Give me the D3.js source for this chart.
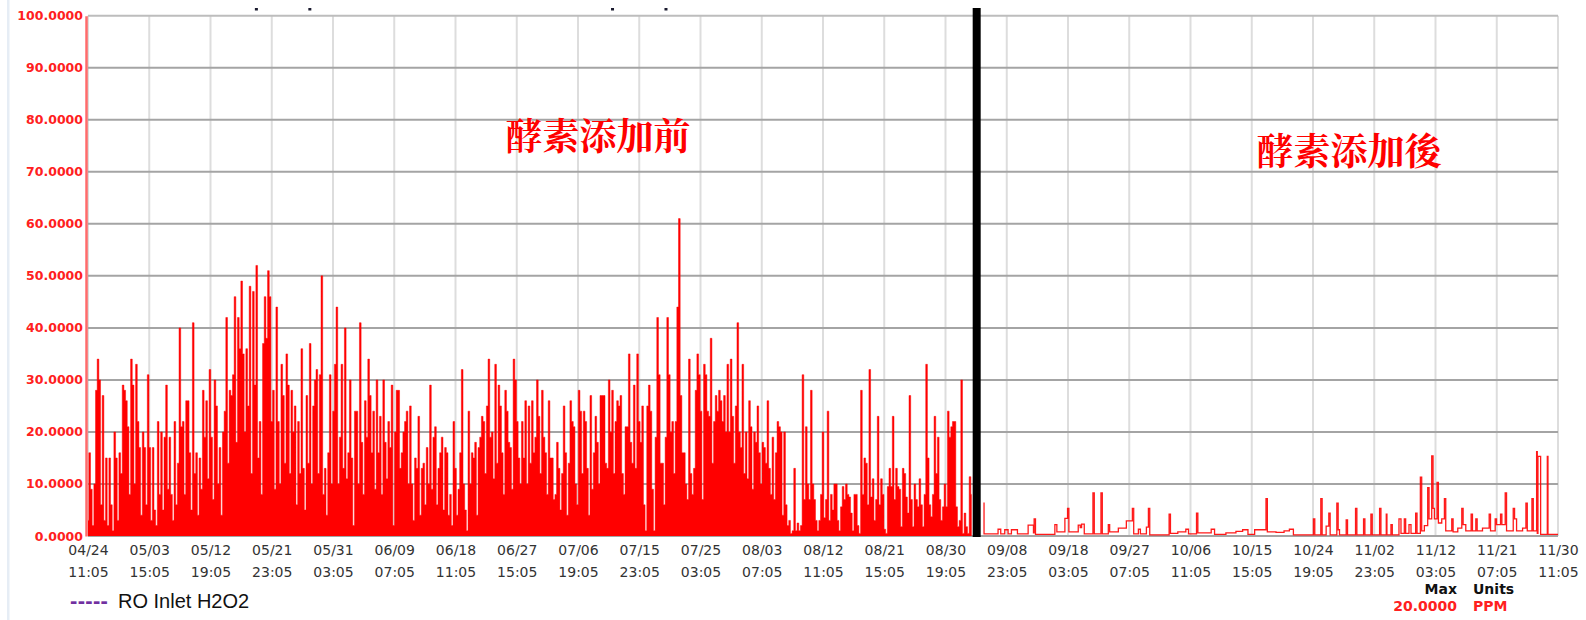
<!DOCTYPE html>
<html>
<head>
<meta charset="utf-8">
<script src="https://cdn.jsdelivr.net/npm/d3@7"></script>
<style>
  body { margin: 0; background: #fff; }
  svg { display: block; }
</style>
</head>
<body>
<div id="chart"></div>
<script>
/*********************************
   DATA
 *********************************/

// Time Axis Tick Labels (Every 220 Hours)
const tickLabels = ["04/24 11:05", "05/03 15:05", "05/12 19:05", "05/21 23:05", "05/31 03:05",
  "06/09 07:05", "06/18 11:05", "06/27 15:05", "07/06 19:05", "07/15 23:05", "07/25 03:05",
  "08/03 07:05", "08/12 11:05", "08/21 15:05", "08/30 19:05", "09/08 23:05", "09/18 03:05",
  "09/27 07:05", "10/06 11:05", "10/15 15:05", "10/24 19:05", "11/02 23:05", "11/12 03:05",
  "11/21 07:05", "11/30 11:05"];
const yTicks = [0, 10, 20, 30, 40, 50, 60, 70, 80, 90, 100];

// Before Enzyme Dosing: One Reading Every 6 Hours From 04/24 11:05 (PPM)
const stepHours = 6;
const beforeVals = [
  3,16,9,2,10,28,34,30,6,27, 3,15,2,15,6,1,20,15,3,16, 12,29,28,26,21,8,34,29,10,33,
  22,17,4,20,17,6,31,17,3,17, 5,2,22,8,20,5,19,29,9,19, 8,3,22,6,14,40,21,22,8,26,
  26,16,5,41,12,16,4,15,9,28, 19,26,11,32,19,7,30,25,10,17, 4,20,24,42,14,28,27,31,46,18,
  42,36,49,35,20,36,25,48,12,47, 29,52,15,22,8,37,46,38,51,46, 22,28,9,44,22,10,33,27,14,35,
  29,12,28,20,25,6,22,12,36,13, 5,27,14,37,10,25,30,32,12,31, 50,8,13,4,16,31,10,24,33,
  44,10,19,33,13,40,11,16,30,15, 2,24,24,10,41,18,8,26,19,34, 27,16,24,9,30,16,23,8,30,18,
  11,22,17,29,2,20,28,28,13,16, 20,22,24,10,25,10,3,15,13,23, 4,13,14,6,17,10,29,9,19,21,
  6,13,16,19,5,17,16,4,8,2, 22,13,4,9,16,32,10,5,1,24, 10,16,15,18,4,17,19,23,22,12,
  25,34,19,20,11,33,14,29,25,16, 8,28,24,18,17,9,34,30,22,15, 10,22,15,26,10,25,14,26,16,19,
  30,23,12,28,19,16,8,26,15,15, 7,8,18,13,5,12,25,16,4,14, 26,22,21,10,6,28,24,12,24,22,
  13,4,27,9,16,23,18,10,27,27, 27,14,13,30,20,28,12,22,26,25, 27,12,8,21,21,35,18,14,29,13,
  35,22,18,25,6,1,25,29,24,9, 1,19,42,31,14,14,6,19,42,31, 20,22,12,22,44,61,27,16,16,10,
  7,34,12,8,13,28,35,31,24,7, 33,31,24,23,38,14,22,27,24,28, 26,22,27,20,33,20,34,23,14,25,
  41,20,17,33,12,20,11,26,21,9, 20,18,25,16,10,18,17,14,26,13, 8,19,7,16,22,21,20,4,20,6,
  2,3,0.5,1,13,1,2.5,1,2,31, 7,21,10,7,28,10,7,3,1,3, 8,20,3.5,7,24,3,8,5,10,10,
  3,1,5.6,9.5,7,10,8,7.5,4.4,1, 8,8,2,0.5,28,8,15,14,6,32, 7.5,11,3,7,23,6,11,8,1.3,0.5,
  9.5,13,9.5,23,7,13,9.5,9,1.8,13, 12,7.5,4.4,27,7,1.8,10,7,5.6,11, 6,1.8,8,33,15,6,3.7,8,23,12,
  19,7,3,5.6,10,5.6,24,19,21,22, 22,5.6,1.8,3,30,0.5,4.4,1.8,0.5,11.4, 8
];

// After Enzyme Dosing: Step Changes (Days Since 04/24 11:05, PPM)
const afterDays = [134.0,134.1,136.2,136.6,137.2,137.7,138.2,139.1,140.7,141.5,141.6,141.8,
  144.7,145.0,146.2,146.6,146.8,148.2,148.5,148.7,149.1,150.4,150.6,151.6,151.8,152.7,152.9,
  154.2,155.4,156.3,156.5,157.2,157.5,158.4,158.7,158.9,161.8,162.0,163.1,164.3,164.7,165.9,
  166.1,168.1,168.6,170.3,171.8,172.8,173.6,174.6,176.3,176.5,177.8,179.0,179.8,180.4,183.4,
  183.6,184.5,184.7,185.3,185.7,185.9,186.9,187.1,187.3,188.3,188.5,189.7,189.9,190.9,191.1,
  192.0,192.2,193.3,193.5,194.3,194.4,195.0,195.2,196.2,196.5,197.0,197.2,197.7,198.0,198.7,
  198.9,199.4,199.6,200.0,200.5,200.7,201.1,201.3,201.5,201.9,202.1,202.6,203.0,203.2,204.1,
  204.3,205.0,205.6,205.8,206.2,207.0,207.2,207.7,207.9,208.7,209.7,209.9,210.6,210.8,211.4,
  211.6,212.1,212.3,213.3,213.5,213.8,214.7,215.2,215.4,216.1,216.3,216.8,216.9,217.0,217.4,
  218.4,218.5,220.0];
const afterVals = [6.3,0.4,1.3,0.4,1.2,0.4,1.2,0.4,2.1,0.6,3.3,0.3,
  2.2,0.8,3.4,5.3,0.8,2.1,1.6,2.3,0.4,8.3,0.4,8.3,0.4,2.2,0.8,
  1.5,2.9,5.3,0.4,1.3,0.4,1.7,5.3,0.2,4.2,0.5,0.8,1.3,0.4,4.4,
  0.6,1.3,0.3,0.6,0.9,1.2,0.3,1.2,7.2,0.8,0.7,1.0,1.3,0.2,3.3,
  0.2,7.2,0.2,1.9,4.4,0.2,6.3,1.2,0.2,3.1,0.2,5.3,0.2,3.3,0.2,
  4.2,0.2,5.3,0.2,4.2,0.2,2.2,0.2,3.3,0.5,3.3,0.5,2.2,0.5,4.4,
  0.5,11.3,1.0,2.0,9.3,3.3,15.4,5.3,3.3,10.3,2.5,3.3,7.2,1.0,3.3,
  0.8,1.5,5.3,2.2,1.0,4.2,1.0,3.3,1.0,1.5,4.2,1.0,3.3,2.2,4.2,
  2.2,8.3,1.0,5.3,3.3,1.0,1.5,6.3,1.0,7.2,1.0,16.2,0.5,15.3,0.3,
  15.3,0.3,0.3];

// Enzyme Dosing Start (Days Since 04/24 11:05)
const dividerDay = 133;
// Stray Marks Above The Plot (Days Since 04/24 11:05)
const topMarkDays = [25.2, 33.2, 78.5, 86.5];

/*********************************
   DRAW CHART
 *********************************/

let w = 1586, h = 620;
let plotLeft = 88, plotRight = 1558, plotTop = 15.7, plotBottom = 536;

let svg = d3.select("#chart").append("svg").attr("width", w).attr("height", h);

// Parse Dates
let parseTime = d3.utcParse("%Y/%m/%d %H:%M");
let tickDates = tickLabels.map((d) => parseTime("2019/" + d));
let t0 = tickDates[0];

// Scales
let xScale = d3.scaleUtc().domain([tickDates[0], tickDates[tickDates.length - 1]]).range([plotLeft, plotRight]);
let yScale = d3.scaleLinear().domain([0, 100]).range([plotBottom, plotTop]);

// Faint Page Edge
svg.append("rect").attr("x", 7).attr("y", 0).attr("width", 2.5).attr("height", h).attr("fill", "#e6edf5");

// Vertical Grid Lines
svg.append("g").selectAll("line").data(tickDates).enter().append("line")
  .attr("x1", (d) => xScale(d)).attr("x2", (d) => xScale(d))
  .attr("y1", plotTop).attr("y2", plotBottom)
  .attr("stroke", "#dddddd").attr("stroke-width", 2);

// Horizontal Grid Lines
svg.append("g").selectAll("line").data(yTicks).enter().append("line")
  .attr("x1", plotLeft).attr("x2", plotRight)
  .attr("y1", (d) => yScale(d)).attr("y2", (d) => yScale(d))
  .attr("stroke", (d) => d == 100 ? "#bdbdbd" : "#a4a4a4").attr("stroke-width", 2);

// Before Series: Dense Readings Drawn As Filled Steps From Zero
let beforeX = (d, i) => xScale(d3.utcHour.offset(t0, i * stepHours));
let beforeArea = d3.area().curve(d3.curveStep)
  .x(beforeX).y0(yScale(0)).y1((d) => yScale(d));
svg.append("path").datum(beforeVals).attr("d", beforeArea)
  .attr("fill", "#ff0000").attr("stroke", "none");
let beforeEdge = d3.line().curve(d3.curveStep).x(beforeX).y((d) => yScale(d));
svg.append("path").datum(beforeVals).attr("d", beforeEdge)
  .attr("fill", "none").attr("stroke", "#ff0000").attr("stroke-width", 0.8).attr("stroke-opacity", 0.6);

// After Series (Stepped)
let afterData = afterDays.map((d, i) => ({ t: d3.utcMinute.offset(t0, Math.round(d * 1440)), v: afterVals[i] }));
let afterLine = d3.line().curve(d3.curveStepAfter)
  .x((d) => xScale(d.t)).y((d) => yScale(d.v));
svg.append("path").datum(afterData).attr("d", afterLine)
  .attr("fill", "none").attr("stroke", "#ff0000").attr("stroke-width", 1.3).attr("stroke-opacity", 0.9);

// Y Axis
let yAxis = d3.axisLeft(yScale).tickValues(yTicks).tickFormat(d3.format(".4f")).tickSize(0).tickPadding(3);
let yG = svg.append("g").attr("transform", "translate(" + (plotLeft - 2) + ",0)").call(yAxis);
yG.select(".domain").attr("stroke", "#ff6b6b").attr("stroke-width", 2.5);
yG.selectAll("text").attr("fill", "#ff2020").style("font", "bold 12.5px 'DejaVu Sans', Verdana, sans-serif");

// X Axis (Two-Line Labels)
let xAxis = d3.axisBottom(xScale).tickValues(tickDates).tickSize(0).tickFormat("");
let xG = svg.append("g").attr("transform", "translate(0," + plotBottom + ")").call(xAxis);
xG.select(".domain").remove();
xG.selectAll(".tick").each(function (d, i) {
  let parts = tickLabels[i].split(" ");
  let t = d3.select(this).select("text").attr("y", 0).attr("dy", null)
    .attr("fill", "#333").style("font", "14px 'DejaVu Sans', Verdana, sans-serif");
  t.append("tspan").attr("x", 0).attr("y", 19).text(parts[0]);
  t.append("tspan").attr("x", 0).attr("y", 40.7).text(parts[1]);
});

// Enzyme Dosing Divider
svg.append("rect").attr("x", xScale(d3.utcMinute.offset(t0, dividerDay * 1440)) - 4).attr("y", 8)
  .attr("width", 8).attr("height", 529).attr("fill", "#000");

// Stray Top Marks
svg.append("g").selectAll("rect").data(topMarkDays).enter().append("rect")
  .attr("x", (d) => xScale(d3.utcMinute.offset(t0, d * 1440)) - 1.5).attr("y", 8)
  .attr("width", 3).attr("height", 2.5).attr("fill", "#1a1a2e");

// Period Labels
svg.append("text").text("酵素添加前").attr("x", 598).attr("y", 150)
  .attr("text-anchor", "middle").attr("fill", "#ff0000")
  .style("font", "bold 37px 'Noto Serif CJK TC', 'Noto Sans CJK TC', sans-serif");
svg.append("text").text("酵素添加後").attr("x", 1349).attr("y", 165)
  .attr("text-anchor", "middle").attr("fill", "#ff0000")
  .style("font", "bold 37px 'Noto Serif CJK TC', 'Noto Sans CJK TC', sans-serif");

// Legend
svg.append("text").text("-----").attr("x", 70).attr("y", 608).attr("fill", "#7030a0")
  .style("font", "bold 22px 'Liberation Sans', Arial, sans-serif").style("letter-spacing", "0.3px");
svg.append("text").text("RO Inlet H2O2").attr("x", 118).attr("y", 608).attr("fill", "#111")
  .style("font", "20px 'Liberation Sans', Arial, sans-serif");

// Max / Units Block
let infoFont = "bold 14px 'DejaVu Sans', Verdana, sans-serif";
svg.append("text").text("Max").attr("x", 1457).attr("y", 594).attr("text-anchor", "end").attr("fill", "#111").style("font", infoFont);
svg.append("text").text("Units").attr("x", 1473).attr("y", 594).attr("fill", "#111").style("font", infoFont);
svg.append("text").text("20.0000").attr("x", 1457).attr("y", 610.5).attr("text-anchor", "end").attr("fill", "#ff2020").style("font", infoFont);
svg.append("text").text("PPM").attr("x", 1473).attr("y", 610.5).attr("fill", "#ff2020").style("font", infoFont);
</script>
</body>
</html>
